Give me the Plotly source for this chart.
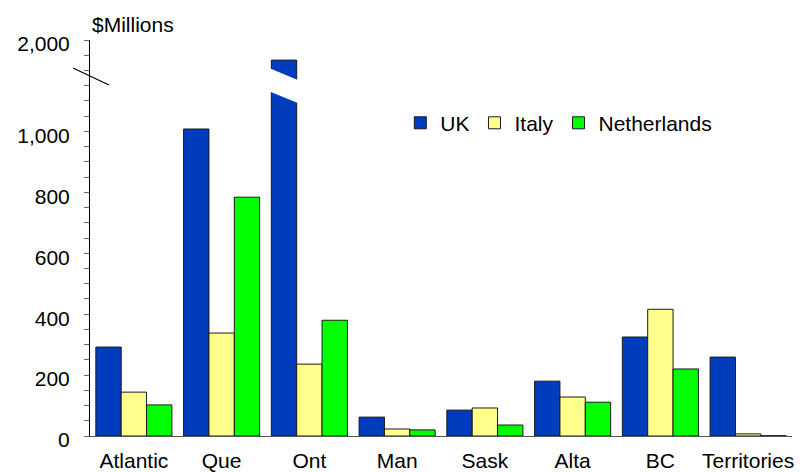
import plotly.graph_objects as go

# ---- data ----
provinces = ["Atlantic", "Que", "Ont", "Man", "Sask", "Alta", "BC", "Territories"]
uk = [292, 1026, 1780, 62, 85, 180, 325, 259]
italy = [144, 338, 236, 23, 92, 128, 416, 7]
netherlands = [102, 784, 380, 20, 36, 111, 220, 1]
tick_values = [0, 200, 400, 600, 800, 1000, 2000]
tick_labels = ["0", "200", "400", "600", "800", "1,000", "2,000"]
MINOR_STEP = 50

# broken axis: above 1000 the scale is compressed (1000..2000 -> 1000..1300)
BREAK = 1000
COMPRESS = 0.3


def disp(v):
    return v if v <= BREAK else BREAK + (v - BREAK) * COMPRESS


FONT = "Liberation Sans, Arial, sans-serif"
FS = 21
BARGAP = 0.133
colors = {"UK": "#003CBE", "Italy": "#FFFF8C", "Netherlands": "#00FF00"}

fig = go.Figure()
for name, vals in [("UK", uk), ("Italy", italy), ("Netherlands", netherlands)]:
    fig.add_trace(go.Bar(
        x=provinces, y=[disp(v) for v in vals], name=name,
        marker=dict(color=colors[name], line=dict(color="#1a1a1a", width=1)),
        customdata=vals, hovertemplate="%{x}: %{customdata}<extra>" + name + "</extra>",
    ))

# white slanted band across the broken Ont UK bar
bw = (1 - BARGAP) / 3
i_ont = provinces.index("Ont")
x0 = i_ont - 1.5 * bw - 0.02
x1 = i_ont - 0.5 * bw + 0.02
band_c = disp(BREAK + 500)  # centre of band
fig.add_shape(type="path",
              path=f"M {x0} {band_c + 57} L {x1} {band_c + 18} L {x1} {band_c - 58} L {x0} {band_c - 19} Z",
              xref="x", yref="y", fillcolor="white", line=dict(width=0), layer="above")

# slash marking the axis break
fig.add_shape(type="line", xref="paper", yref="y",
              xsizemode="pixel", xanchor=0, x0=-17, x1=19,
              ysizemode="pixel", yanchor=disp(BREAK + 600), y0=8.5, y1=-8.5,
              line=dict(color="black", width=1.2))

fig.add_annotation(text="$Millions", xref="paper", yref="paper", x=0, y=1,
                   xanchor="left", yanchor="bottom", yshift=2, showarrow=False,
                   font=dict(size=FS, color="black", family=FONT))

# tick positions every MINOR_STEP on the displayed scale, labels on majors only
top = disp(tick_values[-1])
all_ticks = [k * MINOR_STEP for k in range(int(top // MINOR_STEP) + 1)]
major = {disp(v): t for v, t in zip(tick_values, tick_labels)}
all_text = [major.get(t, "") for t in all_ticks]

fig.update_layout(
    width=800, height=472,
    margin=dict(l=90, r=8, t=40, b=36, autoexpand=False),
    paper_bgcolor="white", plot_bgcolor="white",
    barmode="group", bargap=BARGAP, bargroupgap=0,
    font=dict(family=FONT, color="black"),
    legend=dict(orientation="h", x=0.442, y=0.79, xanchor="left", yanchor="middle",
                font=dict(size=FS), itemwidth=30, traceorder="normal",
                bgcolor="rgba(0,0,0,0)"),
    xaxis=dict(type="category", range=[-0.5, 7.5], showline=True, linecolor="#555",
               linewidth=1, ticks="", tickfont=dict(size=FS), ticklabelstandoff=6,
               showgrid=False, zeroline=False, automargin=False),
    yaxis=dict(range=[0, top], showline=True, linecolor="black", linewidth=1,
               tickmode="array", tickvals=all_ticks, ticktext=all_text,
               ticks="outside", ticklen=5, tickcolor="#666", tickfont=dict(size=FS),
               ticklabelstandoff=10, ticklabelshift=4,
               showgrid=False, zeroline=False, automargin=False),
)

fig.write_html("out.html", config={"displayModeBar": False},
               post_script="document.body.style.margin='0';document.body.style.overflow='hidden';")
